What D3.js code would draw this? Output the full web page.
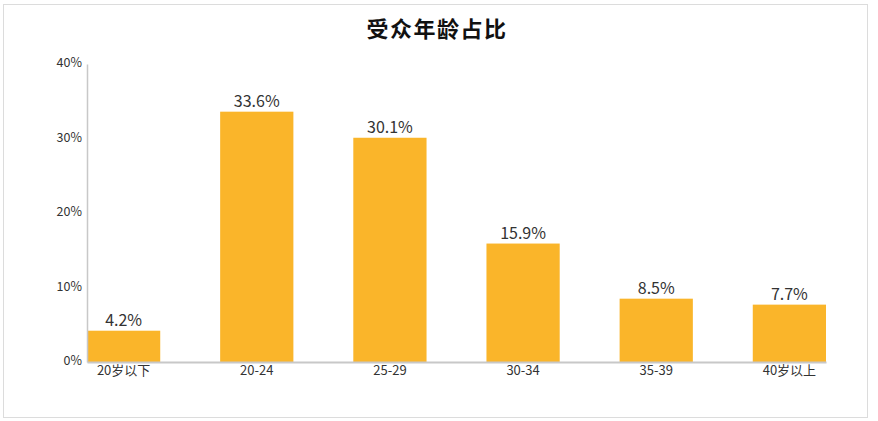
<!DOCTYPE html>
<html>
<head>
<meta charset="utf-8">
<script src="https://cdn.jsdelivr.net/npm/d3@7"></script>
<style>
    body { margin: 0; background: #fff; }
    svg text { font-family: "Microsoft YaHei", "Noto Sans CJK SC", sans-serif; fill: #333; }
</style>
</head>
<body>
<div id="chart"></div>
<script>
// chart data
var categories = ["20岁以下", "20-24", "25-29", "30-34", "35-39", "40岁以上"];
var shares = [4.2, 33.6, 30.1, 15.9, 8.5, 7.7];
var yTicks = [0, 10, 20, 30, 40];

var W = 878, H = 421;
var margin = {left: 87, right: 52, top: 64, bottom: 59};

var svg = d3.select("#chart").append("svg")
    .attr("width", W)
    .attr("height", H);

// outer frame
svg.append("rect")
    .attr("x", 3.5).attr("y", 4.5)
    .attr("width", 864).attr("height", 413)
    .attr("fill", "none")
    .attr("stroke", "#dcdcdc");

var x = d3.scaleBand()
    .domain(categories)
    .range([margin.left, W - margin.right])
    .paddingInner(0.45)
    .paddingOuter(0);

var y = d3.scaleLinear()
    .domain([0, 40])
    .range([H - margin.bottom, margin.top]);

// title
svg.append("text")
    .attr("x", 437).attr("y", 37)
    .attr("text-anchor", "middle")
    .style("font-size", "22px")
    .style("letter-spacing", "1.5px")
    .style("font-weight", "bold")
    .style("fill", "#111")
    .text("受众年龄占比");

// bars
svg.selectAll("rect.bar")
    .data(shares)
    .enter()
    .append("rect")
    .attr("class", "bar")
    .attr("x", function (d, i) { return x(categories[i]); })
    .attr("width", x.bandwidth())
    .attr("y", function (d) { return y(d); })
    .attr("height", function (d) { return y(0) - y(d); })
    .attr("fill", "#FAB52A");

// value labels
svg.selectAll("text.val")
    .data(shares)
    .enter()
    .append("text")
    .attr("class", "val")
    .attr("x", function (d, i) { return x(categories[i]) + x.bandwidth() / 2; })
    .attr("y", function (d) { return y(d) - 5; })
    .attr("text-anchor", "middle")
    .style("font-size", "16px")
    .text(function (d) { return d.toFixed(1) + "%"; });

// y axis
var yAxis = d3.axisLeft(y)
    .tickValues(yTicks)
    .tickSize(0)
    .tickPadding(5)
    .tickFormat(function (d) { return d + "%"; });

var gy = svg.append("g")
    .attr("transform", "translate(" + margin.left + ",0)")
    .call(yAxis);
gy.select(".domain").attr("stroke", "#c8c8c8").attr("stroke-width", 1.5);
gy.selectAll("text").style("font-size", "12.5px").attr("dy", "0.2em");

// x axis
var xAxis = d3.axisBottom(x)
    .tickSize(0)
    .tickPadding(4);

var gx = svg.append("g")
    .attr("transform", "translate(0," + y(0) + ")")
    .call(xAxis);
gx.select(".domain").attr("stroke", "#c8c8c8").attr("stroke-width", 2);
gx.selectAll("text").style("font-size", "13px");
</script>
</body>
</html>
